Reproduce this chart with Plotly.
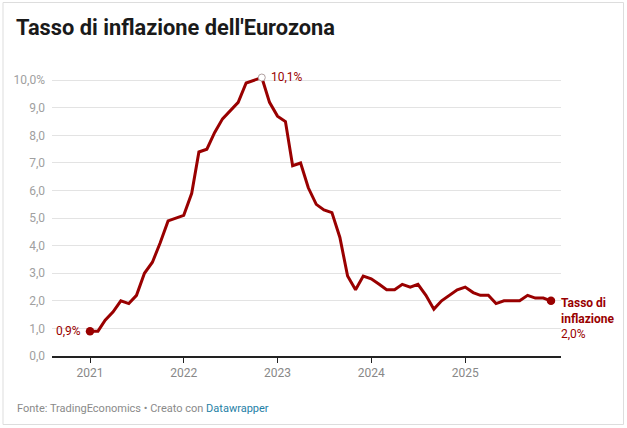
import plotly.graph_objects as go
import pandas as pd

# ---- data ----
months = pd.date_range("2021-01-01", "2025-12-01", freq="MS")
inflation = [
    0.9, 0.9, 1.3, 1.6, 2.0, 1.9, 2.2, 3.0, 3.4, 4.1, 4.9, 5.0,   # 2021
    5.1, 5.9, 7.4, 7.5, 8.1, 8.6, 8.9, 9.2, 9.9, 10.0, 10.1, 9.2,  # 2022
    8.7, 8.5, 6.9, 7.0, 6.1, 5.5, 5.3, 5.2, 4.3, 2.9, 2.4, 2.9,   # 2023
    2.8, 2.6, 2.4, 2.4, 2.6, 2.5, 2.6, 2.2, 1.7, 2.0, 2.2, 2.4,   # 2024
    2.5, 2.3, 2.2, 2.2, 1.9, 2.0, 2.0, 2.0, 2.2, 2.1, 2.1, 2.0,   # 2025
]
y_ticks = [0, 1, 2, 3, 4, 5, 6, 7, 8, 9, 10]
y_ticklabels = ["0,0", "1,0", "2,0", "3,0", "4,0", "5,0", "6,0", "7,0", "8,0", "9,0", "10,0%"]
x_ticks = ["2021-01-01", "2022-01-01", "2023-01-01", "2024-01-01", "2025-01-01"]
x_ticklabels = ["2021", "2022", "2023", "2024", "2025"]

title = "Tasso di inflazione dell'Eurozona"
source = "Fonte: TradingEconomics • Creato con "
credit = "Datawrapper"
series_name = "Tasso di<br>inflazione"

RED = "#990000"
FONT = "Roboto"

W, H = 627, 428
L, R, T, B = 52, 66, 72, 72
PW, PH = W - L - R, H - T - B


def px(x):
    return (x - L) / PW


def py(y):
    return (H - B - y) / PH


peak_i = max(range(len(inflation)), key=lambda i: inflation[i])

fig = go.Figure()
fig.add_trace(go.Scatter(
    x=months, y=inflation, mode="lines",
    line=dict(color=RED, width=3), hoverinfo="skip", showlegend=False,
))
# start / end dots
fig.add_trace(go.Scatter(
    x=[months[0], months[-1]], y=[inflation[0], inflation[-1]], mode="markers",
    marker=dict(color=RED, size=8.5), showlegend=False, hoverinfo="skip",
))
# peak hollow marker
fig.add_trace(go.Scatter(
    x=[months[peak_i]], y=[inflation[peak_i]], mode="markers",
    marker=dict(color="white", size=7, line=dict(color="#b0a0a0", width=1)),
    showlegend=False, hoverinfo="skip", cliponaxis=False,
))

def fmt(v):
    return f"{v:.1f}".replace(".", ",") + "%"

ann = []
ann.append(dict(x=months[0], y=inflation[0], xref="x", yref="y",
                text=fmt(inflation[0]), showarrow=False, xanchor="right",
                xshift=-7, font=dict(family=FONT, size=12, color=RED)))
ann.append(dict(x=months[peak_i], y=inflation[peak_i], xref="x", yref="y",
                text=fmt(inflation[peak_i]), showarrow=False, xanchor="left",
                xshift=7, yshift=1, font=dict(family=FONT, size=12, color=RED)))
ann.append(dict(x=months[-1], y=inflation[-1], xref="x", yref="y",
                text=f"<b>{series_name}</b><br>{fmt(inflation[-1])}",
                showarrow=False, xanchor="left", yanchor="top", align="left",
                xshift=8, yshift=7,
                font=dict(family=FONT, size=12, color=RED)))
ann.append(dict(x=px(14), y=py(28), xref="paper", yref="paper",
                text=f"<b>{title}</b>", showarrow=False, xanchor="left",
                yanchor="middle", font=dict(family=FONT, size=21.8, color="#1a1a1a")))
ann.append(dict(x=px(15), y=py(408), xref="paper", yref="paper",
                text=f"{source}<span style='color:#1f7fa6'>{credit}</span>",
                showarrow=False, xanchor="left", yanchor="middle",
                font=dict(family=FONT, size=11, color="#8a8a8a")))

fig.update_layout(
    width=W, height=H, margin=dict(l=L, r=R, t=T, b=B, autoexpand=False),
    paper_bgcolor="white", plot_bgcolor="white",
    annotations=ann,
    shapes=[dict(type="rect", xref="paper", yref="paper",
                 x0=px(3), x1=px(623.5), y0=py(424.5), y1=py(2.5),
                 line=dict(color="#dddddd", width=1), layer="below")],
    xaxis=dict(
        range=["2020-08-06", "2026-01-09"], type="date",
        tickvals=x_ticks, ticktext=x_ticklabels,
        showgrid=False, showline=True, linecolor="#222222", linewidth=1.5,
        ticks="outside", ticklen=5, tickcolor="#222222", tickwidth=1,
        tickfont=dict(family=FONT, size=12, color="#888888"),
        zeroline=False, fixedrange=True,
    ),
    yaxis=dict(
        range=[0, 10.3], tickvals=y_ticks, ticktext=y_ticklabels,
        showgrid=True, gridcolor="#e3e3e3", gridwidth=1,
        zeroline=False, showline=False, ticks="",
        ticklabelstandoff=6,
        tickfont=dict(family=FONT, size=12, color="#a0a0a0"),
        fixedrange=True,
    ),
)

fig.write_html("out.html")
